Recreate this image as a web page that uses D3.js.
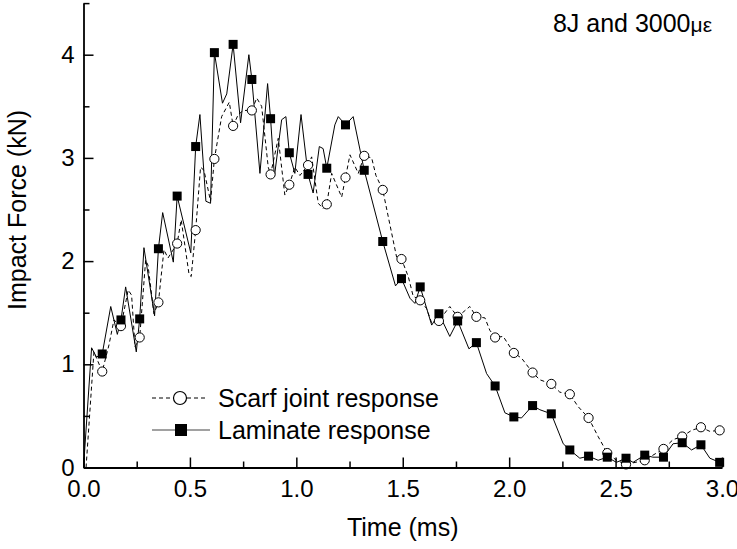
<!DOCTYPE html>
<html><head><meta charset="utf-8">
<script src="https://cdn.jsdelivr.net/npm/d3@7"></script>
<style>
body{margin:0;background:#fff}
svg{display:block}
text{font-family:"Liberation Sans",Arial,Helvetica,sans-serif;fill:#000}
</style>
</head><body>
<svg id="chart" width="737" height="549"></svg>
<script>
// ---- data ----
const markerTimes = [0.088,0.176,0.264,0.352,0.440,0.527,0.615,0.703,0.791,0.879,0.967,1.055,1.143,1.231,1.319,1.406,1.494,1.582,1.670,1.758,1.846,1.934,2.022,2.110,2.198,2.285,2.373,2.461,2.549,2.637,2.725,2.813,2.901,2.989];
const laminateMarkerForce = [1.10,1.43,1.44,2.12,2.63,3.11,4.02,4.10,3.76,3.38,3.05,2.84,2.90,3.32,2.88,2.19,1.83,1.75,1.49,1.42,1.21,0.79,0.49,0.60,0.52,0.17,0.11,0.10,0.09,0.12,0.10,0.24,0.22,0.05];
const scarfMarkerForce = [0.93,1.37,1.26,1.60,2.17,2.30,2.99,3.31,3.46,2.84,2.74,2.93,2.55,2.81,3.02,2.69,2.02,1.62,1.42,1.46,1.46,1.26,1.11,0.92,0.81,0.71,0.48,0.14,0.03,0.07,0.18,0.30,0.39,0.36];
// intermediate samples of the recorded signals (time ms, force kN)
const laminateSamples = [[0,0],[0.038,1.16],[0.061,1.07],[0.128,1.56],[0.159,1.29],[0.198,1.75],[0.248,1.12],[0.284,2.13],[0.334,1.47],[0.372,2.47],[0.422,1.99],[0.504,2.08],[0.547,3.42],[0.575,2.58],[0.597,2.56],[0.653,3.53],[0.673,3.62],[0.738,3.34],[0.777,4.00],[0.829,2.85],[0.865,3.72],[0.897,2.82],[0.931,3.37],[0.951,3.40],[0.993,2.85],[1.022,3.42],[1.079,2.66],[1.108,3.11],[1.126,3.09],[1.181,3.32],[1.197,3.40],[1.267,3.40],[1.466,1.76],[1.534,1.64],[1.557,1.59],[1.636,1.38],[1.721,1.27],[1.811,1.15],[1.894,0.91],[1.980,0.53],[2.058,0.48],[2.144,0.56],[2.254,0.23],[2.332,0.09],[2.418,0.07],[2.504,0.05],[2.582,0.05],[2.675,0.10],[2.770,0.23],[2.857,0.17],[2.943,0.09],[3.0,0.05]];
const scarfSamples = [[0.012,0],[0.049,1.12],[0.120,1.19],[0.143,1.43],[0.210,1.72],[0.226,1.67],[0.242,1.17],[0.292,2.01],[0.303,1.96],[0.331,1.49],[0.378,2.11],[0.397,2.03],[0.459,2.40],[0.496,1.87],[0.506,1.85],[0.550,2.91],[0.566,2.88],[0.597,2.58],[0.649,3.40],[0.685,3.54],[0.727,3.42],[0.751,3.46],[0.814,3.58],[0.837,3.50],[0.868,2.91],[0.915,3.19],[0.946,2.64],[0.993,2.91],[1.017,2.83],[1.072,3.01],[1.103,2.56],[1.126,2.51],[1.166,2.85],[1.213,2.62],[1.252,3.03],[1.291,2.85],[1.354,3.00],[1.374,2.83],[1.432,2.43],[1.471,2.04],[1.526,1.85],[1.549,1.66],[1.612,1.54],[1.636,1.40],[1.721,1.56],[1.815,1.56],[1.886,1.45],[1.909,1.33],[1.972,1.27],[2.058,1.06],[2.144,0.85],[2.238,0.73],[2.324,0.59],[2.418,0.30],[2.504,0.07],[2.676,0.12],[2.770,0.27],[2.857,0.36],[2.943,0.35],[3.0,0.36]];
const xTicks = [0,0.5,1.0,1.5,2.0,2.5,3.0];
const yTicks = [0,1,2,3,4];
const seriesNames = ["Scarf joint response","Laminate response"];

// ---- chart ----
const svg = d3.select("#chart");
const x = d3.scaleLinear().domain([0,3]).range([83.5,722]);
const y = d3.scaleLinear().domain([0,4.5]).range([467.5,3.1]);

function merge(samples, force){
  const pts = samples.map(d=>({t:d[0],f:d[1]}));
  markerTimes.forEach((t,i)=>pts.push({t:t,f:force[i]}));
  return pts.sort((a,b)=>a.t-b.t);
}
const line = d3.line().x(d=>x(d.t)).y(d=>y(d.f));

const scarfPts = merge(scarfSamples, scarfMarkerForce);
const lamPts = merge(laminateSamples, laminateMarkerForce);

svg.append("path").attr("d", line(scarfPts)).attr("fill","none")
  .attr("stroke","#000").attr("stroke-width",1).attr("stroke-dasharray","4,3");
svg.append("path").attr("d", line(lamPts)).attr("fill","none")
  .attr("stroke","#000").attr("stroke-width",1);

svg.append("g").selectAll("circle").data(markerTimes).join("circle")
  .attr("cx",(d)=>x(d)).attr("cy",(d,i)=>y(scarfMarkerForce[i])).attr("r",4.6)
  .attr("fill","#fff").attr("stroke","#000").attr("stroke-width",1);
svg.append("g").selectAll("rect").data(markerTimes).join("rect")
  .attr("x",(d)=>x(d)-4.5).attr("y",(d,i)=>y(laminateMarkerForce[i])-4.5)
  .attr("width",9).attr("height",9).attr("fill","#000");

// axes
function styleAxis(g){
  g.selectAll("path.domain").attr("stroke","#000").attr("stroke-width",1.8);
  g.selectAll(".tick line").attr("stroke","#000").attr("stroke-width",1.5);
  g.selectAll("text").attr("font-size",24).attr("font-family",'"Liberation Sans",Arial,sans-serif').attr("fill","#000");
}
const xMinor = d3.range(0.25,3.0,0.5);
const yMinor = [0.5,1.5,2.5,3.5,4.5];
const gx = svg.append("g").attr("transform",`translate(0,${y(0)})`)
  .call(d3.axisBottom(x).tickValues(xTicks).tickFormat(d3.format(".1f")).tickSize(-10).tickSizeOuter(0).tickPadding(12));
styleAxis(gx);
const gxm = svg.append("g").attr("transform",`translate(0,${y(0)})`)
  .call(d3.axisBottom(x).tickValues(xMinor).tickFormat("").tickSize(-6).tickSizeOuter(0));
gxm.select("path.domain").remove(); styleAxis(gxm);
const gy = svg.append("g").attr("transform",`translate(${x(0)},0)`)
  .call(d3.axisLeft(y).tickValues(yTicks).tickFormat(d3.format("d")).tickSize(-10).tickSizeOuter(0).tickPadding(9));
styleAxis(gy);
const gym = svg.append("g").attr("transform",`translate(${x(0)},0)`)
  .call(d3.axisLeft(y).tickValues(yMinor).tickFormat("").tickSize(-6).tickSizeOuter(0));
gym.select("path.domain").remove(); styleAxis(gym);

// titles
svg.append("text").attr("x",(x(0)+x(3))/2).attr("y",536).attr("text-anchor","middle")
  .attr("font-size",25).text("Time (ms)");
svg.append("text").attr("transform","translate(26,210) rotate(-90)").attr("text-anchor","middle")
  .attr("font-size",25).text("Impact Force (kN)");
const ann = svg.append("text").attr("x",712).attr("y",32).attr("text-anchor","end").attr("font-size",25);
ann.append("tspan").text("8J and 3000");
ann.append("tspan").attr("font-size",21).text("με");

// legend
const lg = svg.append("g");
lg.append("line").attr("x1",152).attr("x2",207).attr("y1",398).attr("y2",398)
  .attr("stroke","#000").attr("stroke-width",1).attr("stroke-dasharray","4,3");
lg.append("circle").attr("cx",180).attr("cy",398).attr("r",6.5).attr("fill","#fff").attr("stroke","#000").attr("stroke-width",1.2);
lg.append("text").attr("x",218).attr("y",406.5).attr("font-size",25).text(seriesNames[0]);
lg.append("line").attr("x1",152).attr("x2",210).attr("y1",430).attr("y2",430)
  .attr("stroke","#444").attr("stroke-width",1.2);
lg.append("rect").attr("x",175).attr("y",424).attr("width",12).attr("height",12).attr("fill","#000");
lg.append("text").attr("x",218).attr("y",438.5).attr("font-size",25).text(seriesNames[1]);
</script>
</body></html>
